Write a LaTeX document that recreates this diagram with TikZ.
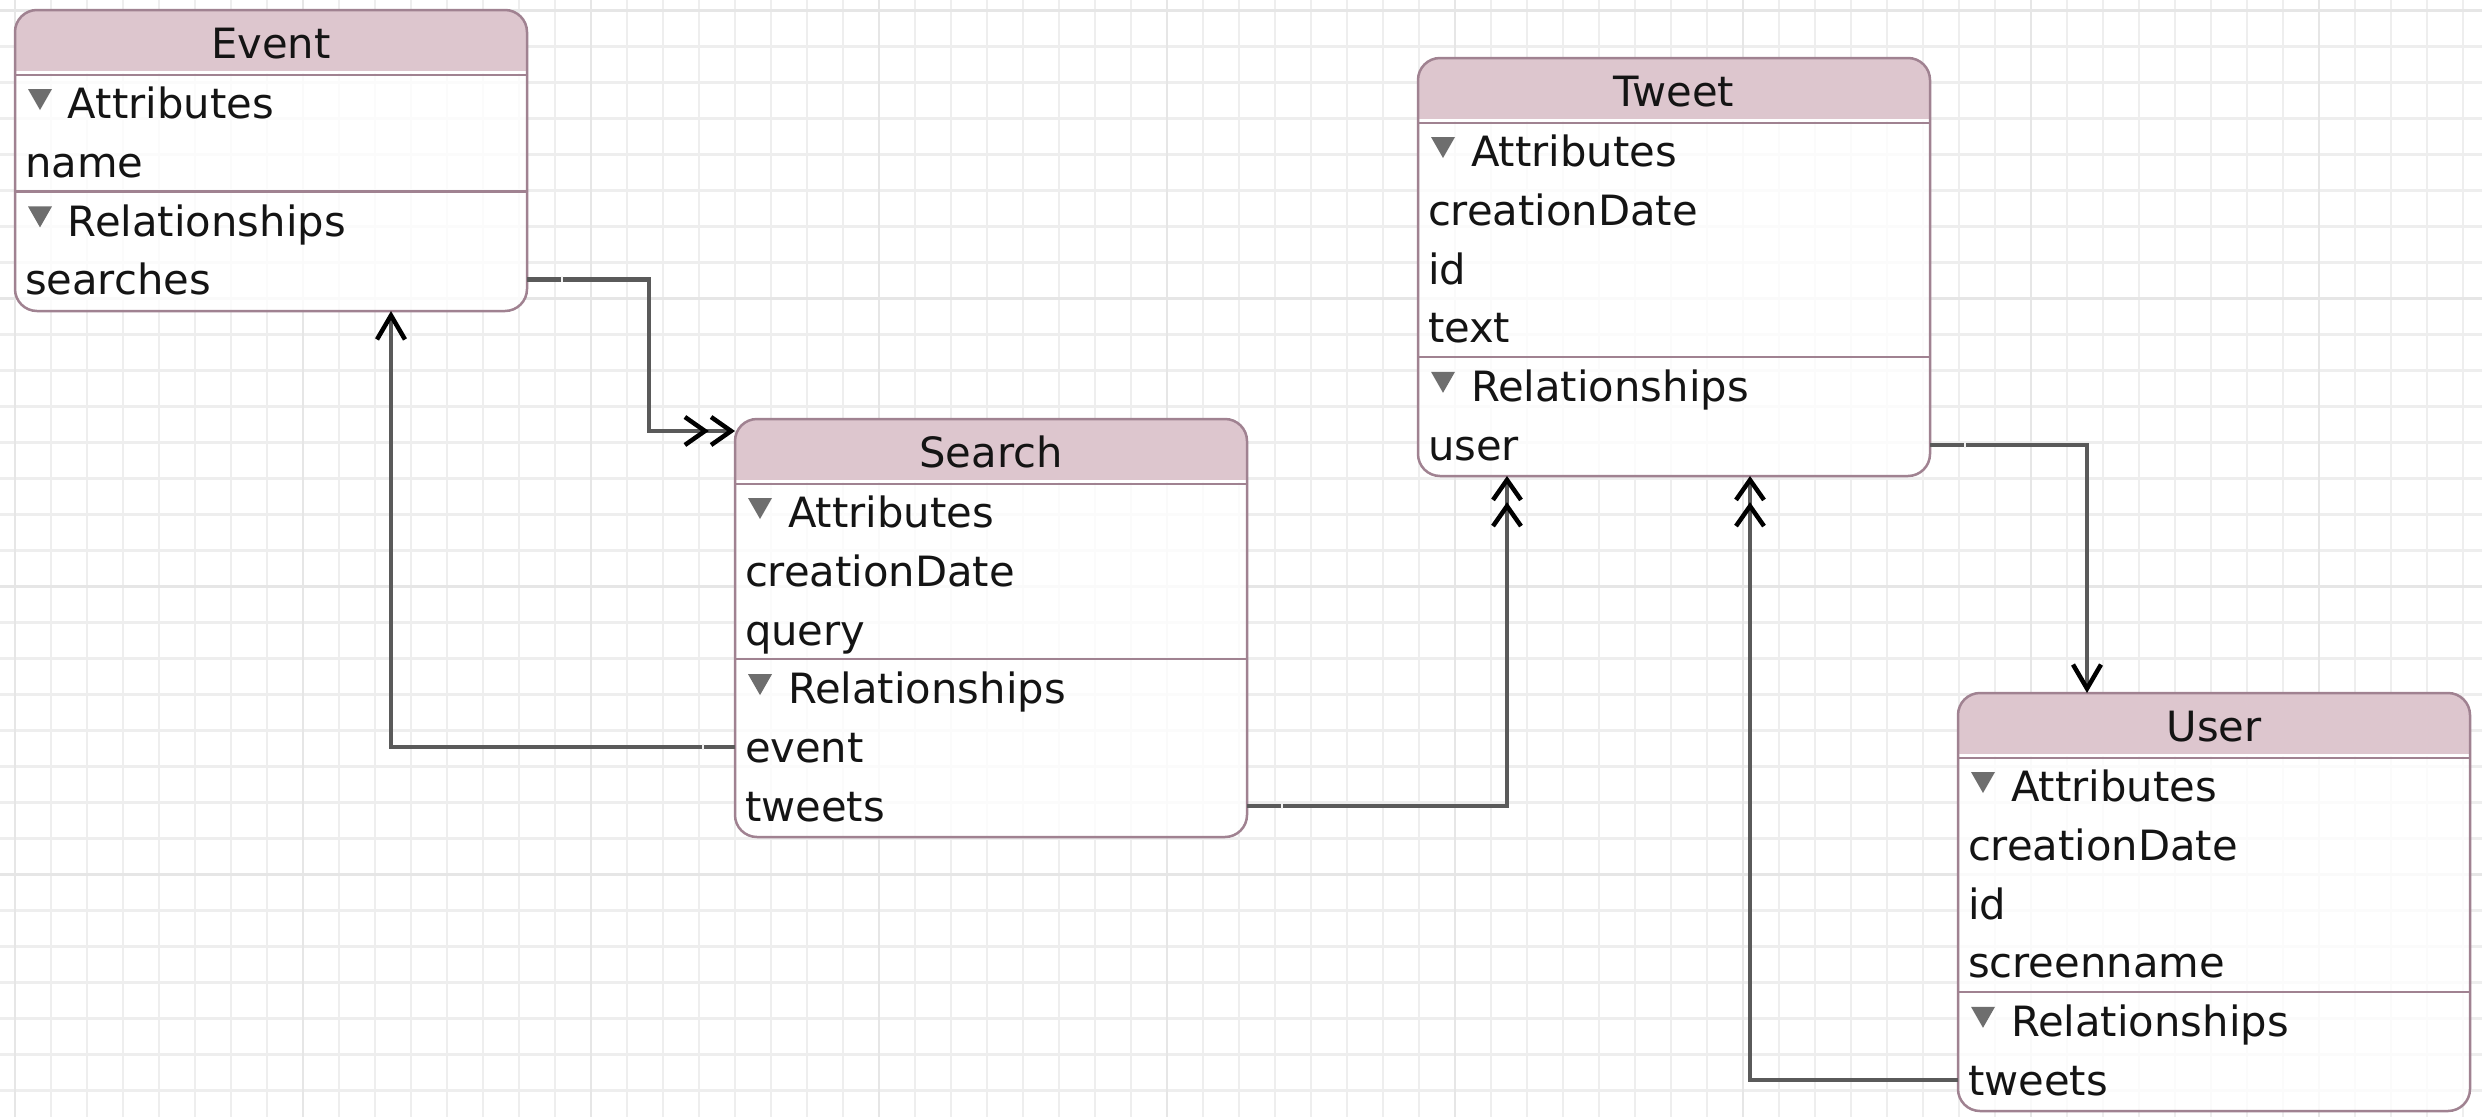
\documentclass[tikz,border=0pt]{standalone}
\usepackage{fontspec}
\setmainfont{DejaVu Sans}
\usetikzlibrary{arrows.meta}

\definecolor{gridc}{HTML}{EEEEEE}
\definecolor{gridmaj}{HTML}{E6E6E6}
\definecolor{framec}{HTML}{A08291}
\definecolor{hdrc}{HTML}{D9BFC8}
\definecolor{inkc}{HTML}{141414}
\definecolor{tric}{HTML}{6E6E6E}
\definecolor{wirec}{HTML}{5A5A5A}

\begin{document}
\begin{tikzpicture}[x=1pt,y=-1pt,
  font=\fontsize{41.7pt}{50pt}\selectfont,
  gridline/.style={draw=gridc, line width=2.5pt},
  gridmajor/.style={draw=gridmaj, line width=2.5pt},
  entity/.style={draw=framec, line width=2.5pt, rounded corners=22pt,
    fill=white, fill opacity=0.82, minimum width=512pt,
    anchor=north west, inner sep=0pt, outer sep=0pt,
    path picture={
      \fill[hdrc, sharp corners, fill opacity=0.88]
        (path picture bounding box.north west) rectangle
        ([yshift=-63pt]path picture bounding box.north east);
      \draw[white, sharp corners, line width=1.5pt, draw opacity=1]
        ([yshift=-62pt]path picture bounding box.north west) --
        ([yshift=-62pt]path picture bounding box.north east);
      \draw[framec, sharp corners, line width=2.5pt, draw opacity=1]
        ([yshift=-65pt]path picture bounding box.north west) --
        ([yshift=-65pt]path picture bounding box.north east);}},
  title/.style={inner sep=0pt, text height=35pt, text depth=3pt, text=inkc},
  row/.style={anchor=north west, inner xsep=10pt, inner ysep=0pt,
    outer sep=0pt, text width=492pt, align=left, minimum height=58.7pt,
    text height=34pt, text depth=3.5pt, text=inkc},
  sect/.style={row, path picture={
      \fill[tric] ([xshift=13pt,yshift=-15pt]path picture bounding box.north west)
        -- ++(24pt,0pt) -- ++(-12pt,-21pt) -- cycle;}},
  divider/.style={draw=framec, line width=2.5pt},
  wire/.style={draw=wirec, line width=4.5pt},
  toone/.style={wire, -{Straight Barb[length=24pt,width=28pt,color=black]}},
  tomany/.style={wire, -{Straight Barb[length=20pt,width=28pt,color=black]
      Straight Barb[length=20pt,width=28pt,color=black]}},
  gapmark/.style={draw=white!95!black, line width=2pt},
]
\useasboundingbox (0,0) rectangle (2482,1117);
\fill[white] (0,0) rectangle (2482,1117);

% background grid
\foreach \k in {0,...,68}
  \draw[gridline] (15+36*\k,0) -- (15+36*\k,1117);
\foreach \k in {0,...,30}
  \draw[gridline] (0,10.5+36*\k) -- (2482,10.5+36*\k);
\foreach \k in {0,8,...,64}
  \draw[gridmajor] (15+36*\k,0) -- (15+36*\k,1117);
\foreach \k in {0,8,...,24}
  \draw[gridmajor] (0,10.5+36*\k) -- (2482,10.5+36*\k);

% entity boxes
\node[entity, minimum height=301pt] (event) at (15,10) {};
\node[entity, minimum height=418pt] (search) at (735,419) {};
\node[entity, minimum height=418pt] (tweet) at (1418,58) {};
\node[entity, minimum height=418pt] (user) at (1958,693) {};

% titles
\node[title] (event-t)  at ([yshift=-32pt]event.north)  {Event};
\node[title] (search-t) at ([yshift=-32pt]search.north) {Search};
\node[title] (tweet-t)  at ([yshift=-32pt]tweet.north)  {Tweet};
\node[title] (user-t)   at ([yshift=-32pt]user.north)   {User};

% Event rows
\node[sect] (ev-attr) at ([yshift=-64pt]event.north west) {\hspace*{43pt}Attributes};
\node[row]  (ev-name) at (ev-attr.south west) {name};
\node[sect] (ev-rel)  at (ev-name.south west) {\hspace*{43pt}Relationships};
\node[row]  (ev-searches) at (ev-rel.south west) {searches};
\draw[divider] (ev-rel.north west) -- (ev-rel.north east);

% Search rows
\node[sect] (se-attr)  at ([yshift=-64pt]search.north west) {\hspace*{43pt}Attributes};
\node[row]  (se-date)  at (se-attr.south west) {creationDate};
\node[row]  (se-query) at (se-date.south west) {query};
\node[sect] (se-rel)   at (se-query.south west) {\hspace*{43pt}Relationships};
\node[row]  (se-event) at (se-rel.south west) {event};
\node[row]  (se-tweets) at (se-event.south west) {tweets};
\draw[divider] (se-rel.north west) -- (se-rel.north east);

% Tweet rows
\node[sect] (tw-attr) at ([yshift=-64pt]tweet.north west) {\hspace*{43pt}Attributes};
\node[row]  (tw-date) at (tw-attr.south west) {creationDate};
\node[row]  (tw-id)   at (tw-date.south west) {id};
\node[row]  (tw-text) at (tw-id.south west) {text};
\node[sect] (tw-rel)  at (tw-text.south west) {\hspace*{43pt}Relationships};
\node[row]  (tw-user) at (tw-rel.south west) {user};
\draw[divider] (tw-rel.north west) -- (tw-rel.north east);

% User rows
\node[sect] (us-attr)   at ([yshift=-64pt]user.north west) {\hspace*{43pt}Attributes};
\node[row]  (us-date)   at (us-attr.south west) {creationDate};
\node[row]  (us-id)     at (us-date.south west) {id};
\node[row]  (us-screen) at (us-id.south west) {screenname};
\node[sect] (us-rel)    at (us-screen.south west) {\hspace*{43pt}Relationships};
\node[row]  (us-tweets) at (us-rel.south west) {tweets};
\draw[divider] (us-rel.north west) -- (us-rel.north east);

% relationships
\draw[tomany] (ev-searches.east) -- ++(122,0) |- ([yshift=-12pt]search.north west);
\draw[toone]  (se-event.west) -| ([xshift=376pt]event.south west);
\draw[tomany] (se-tweets.east) -| ([xshift=89pt]tweet.south west);
\draw[toone]  (tw-user.east) -| ([xshift=129pt]user.north west);
\draw[tomany] (us-tweets.west) -| ([xshift=332pt]tweet.south west);

% small breaks near the source ends
\draw[gapmark] ([xshift=35pt]ev-searches.east) ++(0,-3) -- ++(0,6);
\draw[gapmark] ([xshift=-32pt]se-event.west) ++(0,-3) -- ++(0,6);
\draw[gapmark] ([xshift=35pt]se-tweets.east) ++(0,-3) -- ++(0,6);
\draw[gapmark] ([xshift=35pt]tw-user.east) ++(0,-3) -- ++(0,6);
\end{tikzpicture}
\end{document}
